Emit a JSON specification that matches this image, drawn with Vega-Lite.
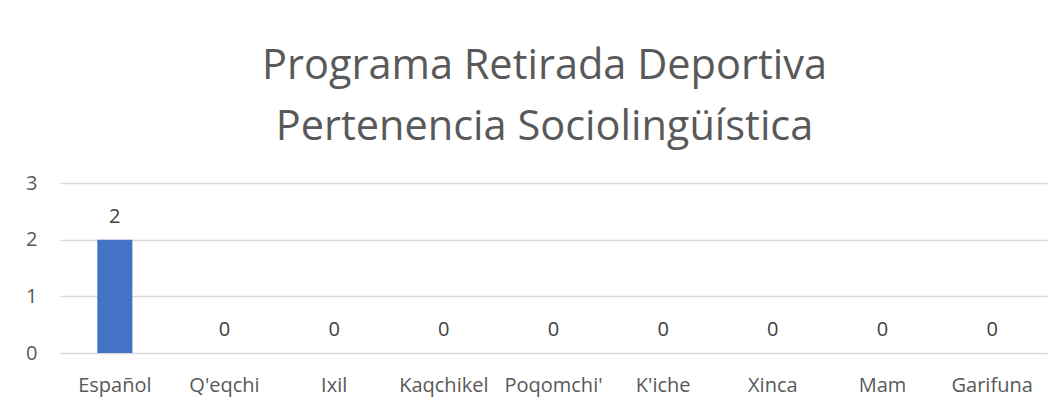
{
  "$schema": "https://vega.github.io/schema/vega-lite/v6.json",
  "autosize": {"type": "none"},
  "width": 987,
  "height": 170,
  "padding": {"left": 60, "top": 183, "right": 13, "bottom": 57},
  "background": "white",
  "title": {
    "text": ["Programa Retirada Deportiva", "Pertenencia Sociolingüística"],
    "font": "Open Sans",
    "fontSize": 41.5,
    "fontWeight": "normal",
    "color": "#595959",
    "anchor": "middle",
    "dx": -9,
    "lineHeight": 61,
    "offset": 25
  },
  "data": {
    "values": [
      {"grupo": "Español", "valor": 2},
      {"grupo": "Q'eqchi", "valor": 0},
      {"grupo": "Ixil", "valor": 0},
      {"grupo": "Kaqchikel", "valor": 0},
      {"grupo": "Poqomchi'", "valor": 0},
      {"grupo": "K'iche", "valor": 0},
      {"grupo": "Xinca", "valor": 0},
      {"grupo": "Mam", "valor": 0},
      {"grupo": "Garifuna", "valor": 0}
    ]
  },
  "encoding": {
    "x": {
      "field": "grupo",
      "type": "nominal",
      "sort": null,
      "scale": {"paddingInner": 0.68, "paddingOuter": 0.34},
      "axis": {
        "title": null,
        "labelAngle": 0,
        "domain": false,
        "ticks": false,
        "tickSize": 0,
        "labelPadding": 22,
        "labelFont": "Open Sans",
        "labelFontSize": 20,
        "labelColor": "#595959",
        "grid": false
      }
    },
    "y": {
      "field": "valor",
      "type": "quantitative",
      "scale": {"domain": [0, 3]},
      "axis": {
        "title": null,
        "values": [0, 1, 2, 3],
        "domain": false,
        "ticks": false,
        "tickSize": 0,
        "labelPadding": 23,
        "labelFont": "Open Sans",
        "labelFontSize": 20,
        "labelColor": "#595959",
        "grid": true,
        "gridColor": "#d9d9d9",
        "gridWidth": 1.3
      }
    }
  },
  "layer": [
    {"mark": {"type": "bar", "color": "#4472c4"}},
    {
      "mark": {
        "type": "text",
        "baseline": "alphabetic",
        "dy": -17,
        "font": "Open Sans",
        "fontSize": 20,
        "color": "#404040"
      },
      "encoding": {"text": {"field": "valor", "type": "quantitative"}}
    }
  ],
  "config": {"view": {"stroke": null}}
}
